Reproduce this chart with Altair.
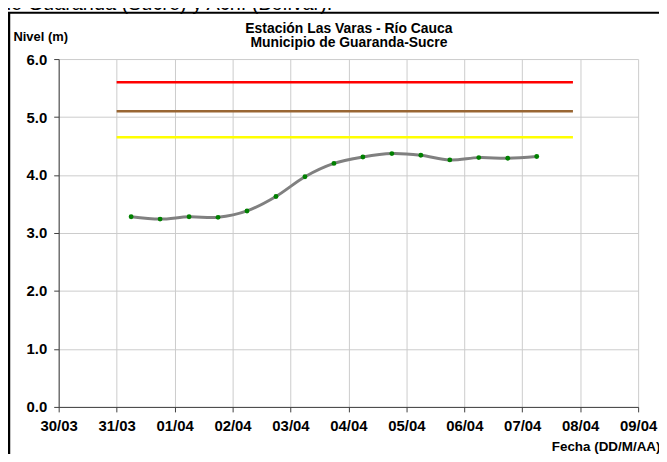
import altair as alt
import pandas as pd

# ---- data ----
times = [
    "2010-03-31T06:00:00", "2010-03-31T18:00:00",
    "2010-04-01T06:00:00", "2010-04-01T18:00:00",
    "2010-04-02T06:00:00", "2010-04-02T18:00:00",
    "2010-04-03T06:00:00", "2010-04-03T18:00:00",
    "2010-04-04T06:00:00", "2010-04-04T18:00:00",
    "2010-04-05T06:00:00", "2010-04-05T18:00:00",
    "2010-04-06T06:00:00", "2010-04-06T18:00:00",
    "2010-04-07T06:00:00",
]
levels = [3.28, 3.24, 3.28, 3.27, 3.38, 3.63, 3.97, 4.20, 4.31, 4.37,
          4.34, 4.26, 4.30, 4.29, 4.32]

threshold_values = [5.6, 5.1, 4.65]
threshold_colors = ["#ff0000", "#996633", "#ffff00"]
threshold_start = ["2010-03-31T00:00:00"] * 3
threshold_end = ["2010-04-07T21:00:00"] * 3

tick_days = [(3, 30), (3, 31), (4, 1), (4, 2), (4, 3), (4, 4),
             (4, 5), (4, 6), (4, 7), (4, 8), (4, 9)]
y_ticks = [0, 1, 2, 3, 4, 5, 6]

title_lines = ["Estación Las Varas - Río Cauca", "Municipio de Guaranda-Sucre"]
caption = "de Guaranda (Sucre) y Achí (Bolívar)."

df = pd.DataFrame({"time": times, "nivel": levels})
thr = pd.DataFrame({"start": threshold_start, "end": threshold_end,
                    "value": threshold_values, "color": threshold_colors})
one = pd.DataFrame({"a": [0]})

FONT = "Liberation Sans"
tick_vals = [alt.DateTime(year=2010, month=m, date=d) for m, d in tick_days]
x_dom = [tick_vals[0], tick_vals[-1]]

x_axis = alt.Axis(
    values=tick_vals, format="%d/%m", title="Fecha (DD/M/AA)",
    labelFont=FONT, labelFontSize=15, labelFontWeight="bold", labelColor="black",
    labelPadding=7, labelFlush=False, labelOverlap=False,
    tickSize=5, tickColor="#404040", domainColor="#404040",
    grid=True, gridColor="#cccccc", gridWidth=1,
    titleFont=FONT, titleFontSize=13.5, titleFontWeight="bold", titleColor="black",
    titleAngle=0, titleAlign="right", titleBaseline="alphabetic",
    titleX=605, titleY=44,
)
y_axis = alt.Axis(
    values=y_ticks, format=".1f", title="Nivel (m)",
    labelFont=FONT, labelFontSize=15, labelFontWeight="bold", labelColor="black",
    labelPadding=7, labelOverlap=False,
    tickSize=5, tickColor="#404040", domainColor="#404040",
    grid=True, gridColor="#cccccc", gridWidth=1,
    titleFont=FONT, titleFontSize=13, titleFontWeight="bold", titleColor="black",
    titleAngle=0, titleAlign="left", titleBaseline="alphabetic",
    titleX=-46, titleY=-19,
)

def X(field):
    return alt.X(field, type="temporal", scale=alt.Scale(domain=x_dom), axis=x_axis)

def Y(field):
    return alt.Y(field, type="quantitative", scale=alt.Scale(domain=[0, 6], nice=False), axis=y_axis)

thr_layer = alt.Chart(thr).mark_rule(strokeWidth=2.5).encode(
    x=X("start"), x2="end", y=Y("value"),
    color=alt.Color("color:N", scale=None),
)
line_layer = alt.Chart(df).mark_line(
    color="#808080", strokeWidth=3, interpolate="cardinal"
).encode(x=X("time"), y=Y("nivel"))
pt_layer = alt.Chart(df).mark_circle(color="#008000", size=24, opacity=1).encode(
    x=X("time"), y=Y("nivel")
)

title1 = alt.Chart(one).mark_text(
    font=FONT, fontSize=14, fontWeight="bold", color="black",
    align="center", baseline="alphabetic"
).encode(x=alt.value(292), y=alt.value(-26.7), text=alt.value(title_lines[0]))
title2 = alt.Chart(one).mark_text(
    font=FONT, fontSize=14, fontWeight="bold", color="black",
    align="center", baseline="alphabetic"
).encode(x=alt.value(292), y=alt.value(-11.7), text=alt.value(title_lines[1]))

cap = alt.Chart(one).mark_text(
    font=FONT, fontSize=20, color="black", align="left", baseline="alphabetic"
).encode(x=alt.value(-59), y=alt.value(-49.7), text=alt.value(caption))

frame_left = alt.Chart(one).mark_rule(color="black", strokeWidth=2.5).encode(
    x=alt.value(-50), y=alt.value(-47), y2=alt.value(410)
)
frame_top = alt.Chart(one).mark_rule(color="black", strokeWidth=2).encode(
    x=alt.value(-51), x2=alt.value(620), y=alt.value(-46.5)
)

chart = alt.layer(
    thr_layer, line_layer, pt_layer, title1, title2, cap, frame_left, frame_top
).properties(
    width=583, height=350,
    autosize=alt.AutoSizeParams(type="none"),
    padding={"left": 51, "top": 50, "right": 21, "bottom": 46},
    background="white",
).configure_view(strokeWidth=0)

chart.save("out.html", embed_options={"renderer": "svg", "actions": False})
